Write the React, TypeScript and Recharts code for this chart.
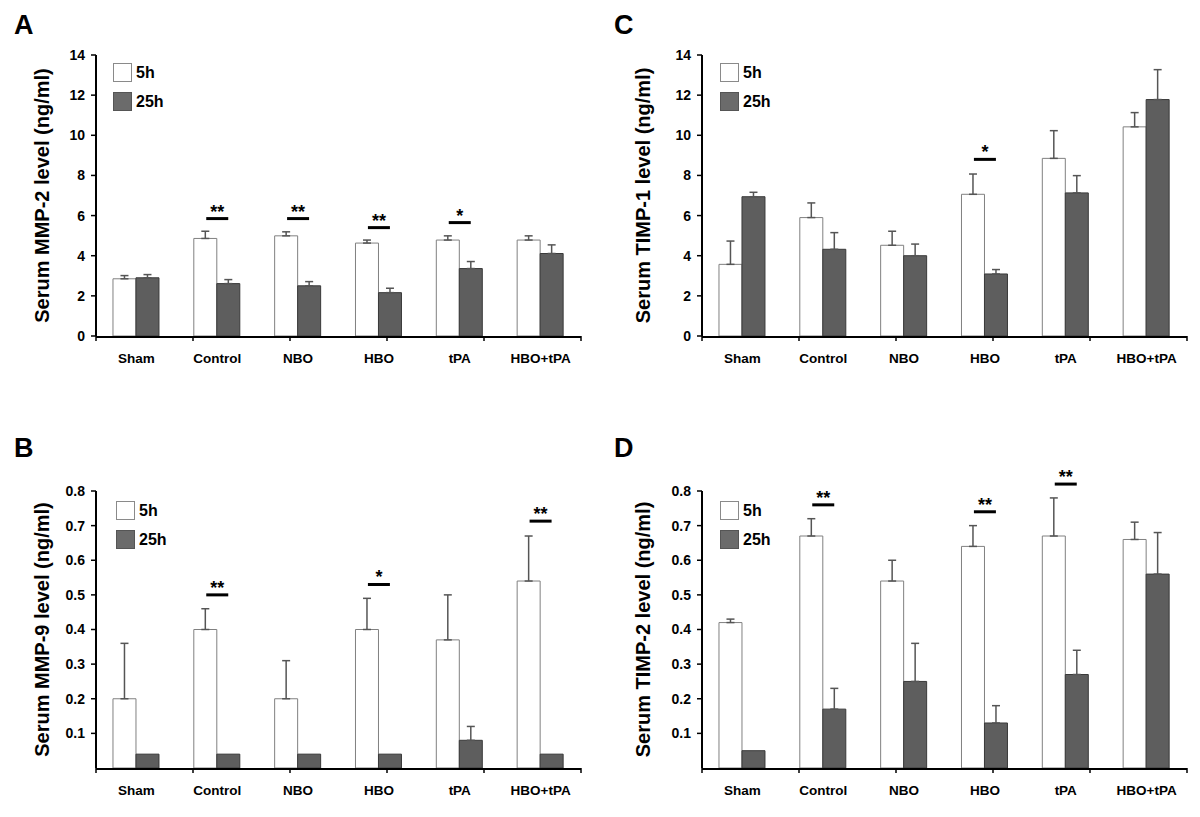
import React from 'react';
import { ComposedChart, Bar, XAxis, YAxis, ErrorBar, ReferenceDot, Legend } from 'recharts';

const FONT = '"Liberation Sans", Arial, Helvetica, sans-serif';

const groups = ['Sham', 'Control', 'NBO', 'HBO', 'tPA', 'HBO+tPA'];
const seriesNames = ['5h', '25h'];
const edgeTicks = [0, 1, 2, 3, 4, 5, 6];

// A - serum MMP-2 (ng/ml)
const mmp2At5h = [2.85, 4.86, 4.99, 4.63, 4.78, 4.78];
const mmp2At25h = [2.9, 2.61, 2.5, 2.16, 3.36, 4.11];
const mmp2Err5h = [0.16, 0.36, 0.2, 0.15, 0.21, 0.21];
const mmp2Err25h = [0.16, 0.2, 0.21, 0.22, 0.35, 0.43];
const mmp2Sig = [
  { group: 'Control', y: 5.85, mark: '**' },
  { group: 'NBO', y: 5.85, mark: '**' },
  { group: 'HBO', y: 5.4, mark: '**' },
  { group: 'tPA', y: 5.65, mark: '*' },
];

// B - serum MMP-9 (ng/ml)
const mmp9At5h = [0.2, 0.4, 0.2, 0.4, 0.37, 0.54];
const mmp9At25h = [0.04, 0.04, 0.04, 0.04, 0.08, 0.04];
const mmp9Err5h = [0.16, 0.06, 0.11, 0.09, 0.13, 0.13];
const mmp9Err25h = [0, 0, 0, 0, 0.04, 0];
const mmp9Sig = [
  { group: 'Control', y: 0.5, mark: '**' },
  { group: 'HBO', y: 0.53, mark: '*' },
  { group: 'HBO+tPA', y: 0.713, mark: '**' },
];

// C - serum TIMP-1 (ng/ml)
const timp1At5h = [3.57, 5.9, 4.52, 7.06, 8.85, 10.42];
const timp1At25h = [6.94, 4.32, 4.0, 3.09, 7.13, 11.78];
const timp1Err5h = [1.16, 0.73, 0.7, 1.01, 1.38, 0.71];
const timp1Err25h = [0.22, 0.83, 0.58, 0.22, 0.86, 1.49];
const timp1Sig = [{ group: 'HBO', y: 8.8, mark: '*' }];

// D - serum TIMP-2 (ng/ml)
const timp2At5h = [0.42, 0.67, 0.54, 0.64, 0.67, 0.66];
const timp2At25h = [0.05, 0.17, 0.25, 0.13, 0.27, 0.56];
const timp2Err5h = [0.01, 0.05, 0.06, 0.06, 0.11, 0.05];
const timp2Err25h = [0, 0.06, 0.11, 0.05, 0.07, 0.12];
const timp2Sig = [
  { group: 'Control', y: 0.76, mark: '**' },
  { group: 'HBO', y: 0.74, mark: '**' },
  { group: 'tPA', y: 0.82, mark: '**' },
];

const bigTicks = [0, 2, 4, 6, 8, 10, 12, 14];
const smallTicks = [0.1, 0.2, 0.3, 0.4, 0.5, 0.6, 0.7, 0.8];

const seriesStyle = [
  { key: 'h5', err: 'e5', fill: '#ffffff', stroke: '#808080', legendFill: '#ffffff', legendStroke: '#8a8a8a' },
  { key: 'h25', err: 'e25', fill: '#5e5e5e', stroke: '#3a3a3a', legendFill: '#6b6b6b', legendStroke: '#555555' },
];

const buildRows = (v5: number[], v25: number[], e5: number[], e25: number[]) =>
  groups.map((group, i) => ({
    group,
    h5: v5[i],
    h25: v25[i],
    e5: e5[i] ? [0, e5[i]] : null,
    e25: e25[i] ? [0, e25[i]] : null,
  }));

const SigMark = (mark: string) => (props: any) => {
  const { cx, cy } = props;
  return (
    <g>
      <line x1={cx - 11} x2={cx + 11} y1={cy} y2={cy} stroke="#000" strokeWidth={3} />
      <text x={cx} y={cy - 1} textAnchor="middle" fontFamily={FONT} fontWeight="bold" fontSize={18} fill="#000">
        {mark}
      </text>
    </g>
  );
};

const renderLegend = () => (
  <div style={{ fontFamily: FONT }}>
    {seriesNames.map((name, i) => (
      <div key={name} style={{ display: 'flex', alignItems: 'center', height: 19, marginBottom: 10 }}>
        <div
          style={{
            width: 17,
            height: 17,
            background: seriesStyle[i].legendFill,
            border: `1px solid ${seriesStyle[i].legendStroke}`,
          }}
        />
        <span style={{ marginLeft: 4, fontSize: 16, fontWeight: 'bold', color: '#000' }}>{name}</span>
      </div>
    ))}
  </div>
);

interface PanelProps {
  letter: string;
  left: number;
  top: number;
  height: number;
  margin: { top: number; right: number; left: number; bottom: number };
  yWidth: number;
  rows: any[];
  domain: [number, number];
  ticks: number[];
  fmt: (v: number) => string;
  yLabel: string;
  labelDx: number;
  sigs: { group: string; y: number; mark: string }[];
  legendLeft: number;
  legendTop: number;
  letterTop: number;
}

const Panel = (p: PanelProps) => (
  <div style={{ position: 'absolute', left: p.left, top: p.top, width: 600, height: p.height }}>
    <div
      style={{
        position: 'absolute',
        left: 14,
        top: p.letterTop,
        fontFamily: FONT,
        fontWeight: 'bold',
        fontSize: 27,
        lineHeight: '27px',
        zIndex: 2,
      }}
    >
      {p.letter}
    </div>
    <ComposedChart width={600} height={p.height} data={p.rows} margin={p.margin} barCategoryGap="21%" barGap={0}>
      {/* category labels */}
      <XAxis
        xAxisId="b"
        dataKey="group"
        height={29}
        interval={0}
        tickLine={false}
        tickSize={6}
        tickMargin={10}
        axisLine={{ stroke: '#000', strokeWidth: 2 }}
        tick={{ fill: '#000', fontSize: 13.5, fontWeight: 'bold', fontFamily: FONT }}
      />
      {/* tick marks between the groups */}
      <XAxis
        xAxisId="a"
        type="number"
        domain={[0, 6]}
        ticks={edgeTicks}
        height={1}
        axisLine={false}
        tickLine={{ stroke: '#000', strokeWidth: 1.5 }}
        tickSize={5}
        tickFormatter={() => ''}
      />
      <YAxis
        width={p.yWidth}
        domain={p.domain}
        ticks={p.ticks}
        tickFormatter={p.fmt}
        interval={0}
        tickSize={5}
        tickMargin={6}
        axisLine={{ stroke: '#000', strokeWidth: 2 }}
        tickLine={{ stroke: '#000', strokeWidth: 1.5 }}
        tick={{ fill: '#000', fontSize: 14, fontWeight: 'bold', fontFamily: FONT }}
        label={{
          value: p.yLabel,
          angle: -90,
          position: 'center',
          dx: p.labelDx,
          style: { fill: '#000', fontSize: 20, fontWeight: 'bold', fontFamily: FONT, textAnchor: 'middle' },
        }}
      />
      <Legend
        layout="vertical"
        align="center"
        verticalAlign="middle"
        content={renderLegend}
        wrapperStyle={{ left: p.legendLeft, top: p.legendTop, width: 80, height: 60 }}
      />
      {seriesStyle.map((s, i) => (
        <Bar
          key={s.key}
          xAxisId="b"
          dataKey={s.key}
          name={seriesNames[i]}
          fill={s.fill}
          stroke={s.stroke}
          strokeWidth={1}
          isAnimationActive={false}
        >
          <ErrorBar dataKey={s.err} width={4} stroke="#555" strokeWidth={1.5} direction="y" isAnimationActive={false} />
        </Bar>
      ))}
      {p.sigs.map((s) => (
        <ReferenceDot
          key={s.group}
          xAxisId="b"
          x={s.group}
          y={s.y}
          r={0}
          ifOverflow="visible"
          shape={SigMark(s.mark)}
        />
      ))}
    </ComposedChart>
  </div>
);

const fmtInt = (v: number) => String(v);
const fmtDec = (v: number) => v.toFixed(1);

export default function App() {
  return (
    <div style={{ position: 'absolute', left: 0, top: 0, width: 1200, height: 817, background: '#fff', overflow: 'hidden' }}>
      <Panel
        letter="A"
        left={0}
        top={0}
        height={400}
        margin={{ top: 55, right: 19, left: 0, bottom: 34 }}
        yWidth={96}
        rows={buildRows(mmp2At5h, mmp2At25h, mmp2Err5h, mmp2Err25h)}
        domain={[0, 14]}
        ticks={bigTicks}
        fmt={fmtInt}
        yLabel="Serum MMP-2 level (ng/ml)"
        labelDx={-6}
        sigs={mmp2Sig}
        legendLeft={113}
        legendTop={63}
        letterTop={12}
      />
      <Panel
        letter="C"
        left={600}
        top={0}
        height={400}
        margin={{ top: 55, right: 13, left: 0, bottom: 34 }}
        yWidth={102}
        rows={buildRows(timp1At5h, timp1At25h, timp1Err5h, timp1Err25h)}
        domain={[0, 14]}
        ticks={bigTicks}
        fmt={fmtInt}
        yLabel="Serum TIMP-1 level (ng/ml)"
        labelDx={-8}
        sigs={timp1Sig}
        legendLeft={120}
        legendTop={63}
        letterTop={12}
      />
      <Panel
        letter="B"
        left={0}
        top={410}
        height={407}
        margin={{ top: 81, right: 19, left: 0, bottom: 19 }}
        yWidth={96}
        rows={buildRows(mmp9At5h, mmp9At25h, mmp9Err5h, mmp9Err25h)}
        domain={[0, 0.8]}
        ticks={smallTicks}
        fmt={fmtDec}
        yLabel="Serum MMP-9 level (ng/ml)"
        labelDx={-6}
        sigs={mmp9Sig}
        legendLeft={116}
        legendTop={91}
        letterTop={25}
      />
      <Panel
        letter="D"
        left={600}
        top={410}
        height={407}
        margin={{ top: 81, right: 13, left: 0, bottom: 19 }}
        yWidth={102}
        rows={buildRows(timp2At5h, timp2At25h, timp2Err5h, timp2Err25h)}
        domain={[0, 0.8]}
        ticks={smallTicks}
        fmt={fmtDec}
        yLabel="Serum TIMP-2 level (ng/ml)"
        labelDx={-8}
        sigs={timp2Sig}
        legendLeft={120}
        legendTop={91}
        letterTop={25}
      />
    </div>
  );
}
